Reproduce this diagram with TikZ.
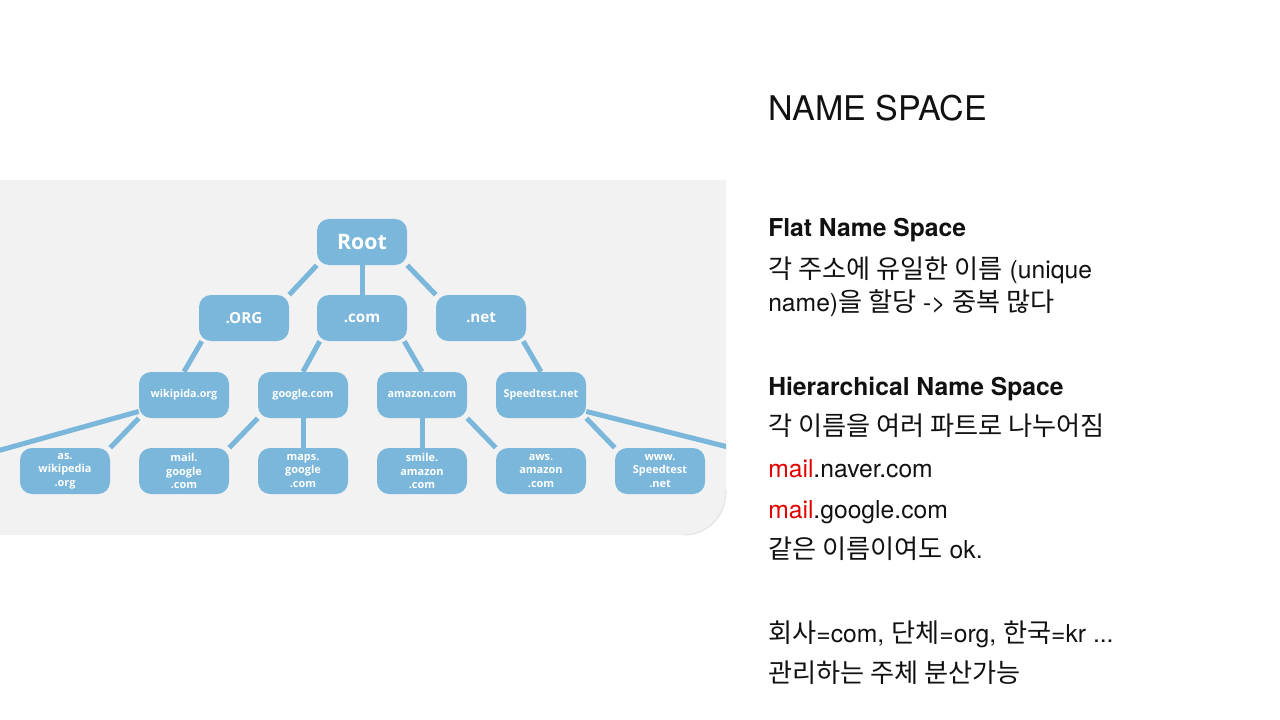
\documentclass[tikz,border=0pt]{standalone}
\usepackage{fontspec}
\setmainfont{TeX Gyre Heros}
\newfontfamily\kr{Noto Sans CJK KR}[Scale=1.062]
\newfontfamily\osans{Open Sans}
\usetikzlibrary{calc}
\definecolor{nodeblue}{RGB}{122,183,219}
\definecolor{panelgray}{RGB}{242,242,242}
\definecolor{txt}{RGB}{17,17,17}
\definecolor{redtxt}{RGB}{226,0,0}
\pgfdeclarelayer{panel}
\pgfdeclarelayer{edges}
\pgfsetlayers{panel,edges,main}
\tikzset{
  box/.style={rectangle, rounded corners=9pt, fill=nodeblue, text=white,
    minimum width=67.5pt, minimum height=34.5pt, inner sep=0pt, align=center},
  lvone/.style={box, font=\osans\bfseries\fontsize{16}{19}\selectfont},
  lvtwo/.style={box, font=\osans\bfseries\fontsize{11.4}{14}\selectfont},
  lvthree/.style={box, font=\osans\bfseries\fontsize{8.1}{10}\selectfont},
  lvfour/.style={box, font=\osans\bfseries\fontsize{8.2}{10.3}\selectfont},
  edge/.style={draw=nodeblue, line width=3.75pt},
  title/.style={anchor=base west, inner sep=0pt, text=txt, font=\fontsize{25.5}{30}\selectfont},
  body/.style={anchor=base west, inner sep=0pt, text=txt, font=\fontsize{18.5}{22}\selectfont},
}
\begin{document}
\begin{tikzpicture}[x=0.75pt,y=-0.75pt]
\useasboundingbox (0,0) rectangle (1280,720);
% panel
\begin{pgfonlayer}{panel}
\fill[panelgray] (0,180) -- (726,180) -- (726,495) .. controls (726,517) and (708,535) .. (686,535) -- (0,535) -- cycle;
\draw[black!10, line width=0.8pt] (726,490) .. controls (726,515) and (708,535) .. (684,535);
\end{pgfonlayer}
% nodes
\node[lvone] (root) at (362,242) {Root};
\node[lvtwo] (org) at (244,318) {.ORG};
\node[lvtwo] (com) at (362,318) {.com};
\node[lvtwo] (net) at (481,318) {.net};
\node[lvthree] (wiki) at (184,395) {wikipida.org};
\node[lvthree] (google) at (303,395) {google.com};
\node[lvthree] (amazon) at (422,395) {amazon.com};
\node[lvthree] (speed) at (541,395) {Speedtest.net};
\node[lvfour] (aswiki) at (65,471) {as.\\wikipedia\\.org};
\node[lvfour] (mailg) at (184,471) {mail.\\google\\.com};
\node[lvfour] (mapsg) at (303,471) {maps.\\google\\.com};
\node[lvfour] (smile) at (422,471) {smile.\\amazon\\.com};
\node[lvfour] (aws) at (541,471) {aws.\\amazon\\.com};
\node[lvfour] (www) at (660,471) {www.\\Speedtest\\.net};
\coordinate (offleft) at (-10,453);
\coordinate (offright) at (740,450);
% edges
\begin{pgfonlayer}{edges}
\begin{scope}
\clip (0,180) rectangle (726,535);
\draw[edge] (root.south west) -- (org.north east);
\draw[edge] (root.south) -- (com.north);
\draw[edge] (root.south east) -- (net.north west);
\draw[edge] ($(org.south west)+(3,0)$) -- (wiki.north);
\draw[edge] ($(com.south west)+(3,0)$) -- (google.north);
\draw[edge] ($(com.south east)+(-3,0)$) -- (amazon.north);
\draw[edge] ($(net.south east)+(-3,0)$) -- (speed.north);
\draw[edge] (wiki.200) -- (offleft);
\draw[edge] (wiki.south west) -- (aswiki.north east);
\draw[edge] (google.south west) -- (mailg.north east);
\draw[edge] (google.south) -- (mapsg.north);
\draw[edge] (amazon.south) -- (smile.north);
\draw[edge] (amazon.south east) -- (aws.north west);
\draw[edge] (speed.south east) -- (www.north west);
\draw[edge] (speed.-20) -- (offright);
\end{scope}
\end{pgfonlayer}
% right text
\node[title] (t0) at (768,121) {NAME SPACE};
\node[body] (t1) at (768,237) {\bfseries Flat Name Space};
\node[body] (t2) at (768,278) {{\kr 각 주소에 유일한 이름} (unique};
\node[body] (t3) at (768,311) {name){\kr 을 할당} -> {\kr 중복 많다}};
\node[body] (t4) at (768,395) {\bfseries Hierarchical Name Space};
\node[body] (t5) at (768,435) {\kr 각 이름을 여러 파트로 나누어짐};
\node[body] (t6) at (768,477) {\textcolor{redtxt}{mail}.naver.com};
\node[body] (t7) at (768,518) {\textcolor{redtxt}{mail}.google.com};
\node[body] (t8) at (768,558) {{\kr 같은 이름이여도} ok.};
\node[body] (t9) at (768,642) {{\kr 회사}=com, {\kr 단체}=org, {\kr 한국}=kr ...};
\node[body] (t10) at (768,682) {\kr 관리하는 주체 분산가능};
\end{tikzpicture}
\end{document}
